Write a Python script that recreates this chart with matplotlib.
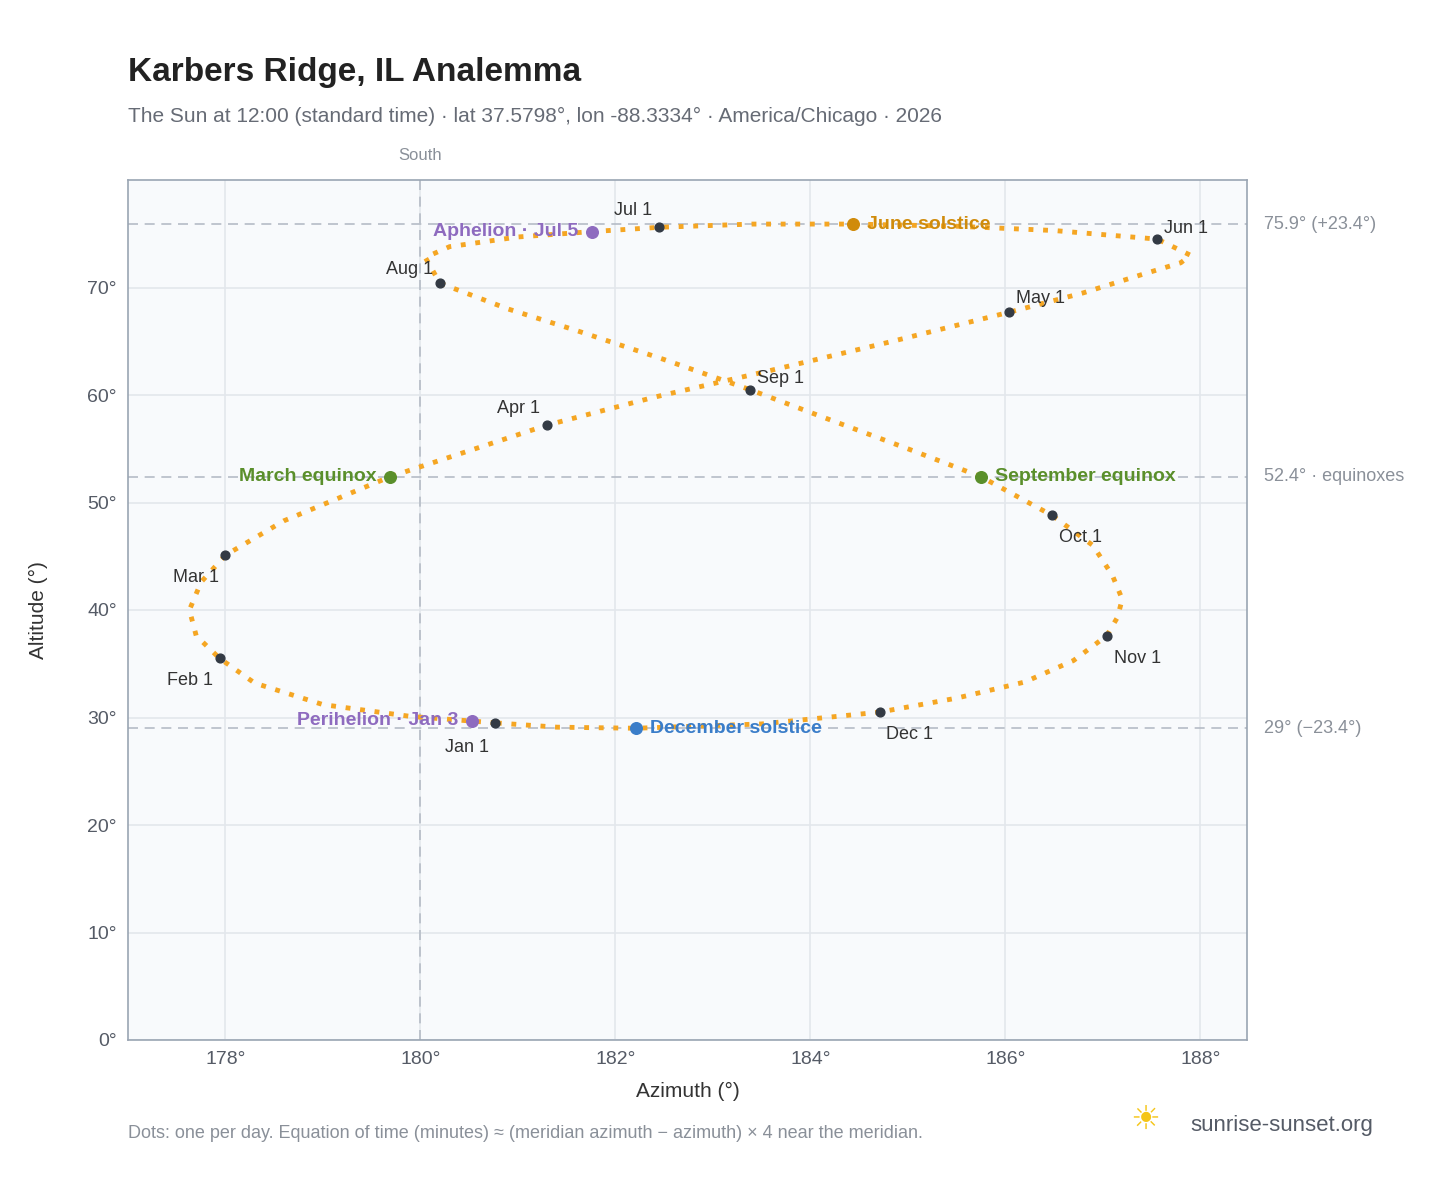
import matplotlib
matplotlib.use("Agg")
import matplotlib.pyplot as plt
plt.rcParams['font.family'] = ['Liberation Sans', 'DejaVu Sans']

# path points (chronological)
path_az = [180.77,179.9,179.0,178.3,177.94,177.7,177.63,177.75,178.0,178.6,179.69,181.30,182.4,183.6,184.8,186.04,186.8,187.4,187.8,187.9,187.56,186.5,185.5,184.44,183.4,182.45,181.76,181.0,180.3,180.05,180.2,180.9,181.6,182.5,183.38,184.2,185.0,185.75,186.48,186.9,187.1,187.2,187.15,187.04,186.7,186.2,185.5,184.71,183.5,182.21,181.4,180.77]
path_alt = [29.5,30.1,31.2,33.2,35.5,37.6,40.0,42.6,45.1,48.3,52.4,57.2,59.8,62.3,64.9,67.7,69.5,71.2,72.3,73.0,74.5,75.3,75.7,75.9,75.9,75.6,75.2,74.7,73.8,72.8,70.4,68.0,66.0,63.3,60.5,57.7,55.0,52.4,48.8,46.0,43.2,41.0,39.3,37.6,35.3,33.3,31.8,30.5,29.4,29.0,29.1,29.5]

months = ["Jan 1","Feb 1","Mar 1","Apr 1","May 1","Jun 1","Jul 1","Aug 1","Sep 1","Oct 1","Nov 1","Dec 1"]
month_az = [180.77,177.94,178.0,181.30,186.04,187.56,182.45,180.20,183.38,186.48,187.04,184.71]
month_alt = [29.5,35.5,45.1,57.2,67.7,74.5,75.6,70.4,60.5,48.8,37.6,30.5]
month_off = [(-5,-18),(-5,-16),(-5,-16),(-5,12),(5,10),(5,8),(-5,12),(-5,10),(5,8),(5,-16),(5,-16),(5,-16)]
month_ha = ["right","right","right","right","left","left","right","right","left","left","left","left"]

special = ["Perihelion · Jan 3","Aphelion · Jul 5","June solstice","December solstice","March equinox","September equinox"]
special_az = [180.53,181.76,184.44,182.21,179.69,185.75]
special_alt = [29.7,75.2,75.9,29.0,52.4,52.4]
special_col = ["#8e6bbf","#8e6bbf","#d08b0b","#3a7dc9","#5a8f2b","#5a8f2b"]
special_ha = ["right","right","left","left","right","left"]

fig = plt.figure(figsize=(14.48,11.88), dpi=100)
ax = fig.add_axes([128/1448, 1-1040/1188, 1119/1448, 860/1188])
ax.set_facecolor("#f8fafc")
ax.set_xlim(177.0,188.48); ax.set_ylim(0,80)
ax.set_xticks([178,180,182,184,186,188]); ax.set_xticklabels([f"{v}°" for v in [178,180,182,184,186,188]])
ax.set_yticks(range(0,80,10)); ax.set_yticklabels([f"{v}°" for v in range(0,80,10)])
ax.grid(color="#e3e7ec", lw=1.2); ax.set_axisbelow(True)
for s in ax.spines.values(): s.set_color("#9aa5b3"); s.set_linewidth(1.2)
ax.tick_params(colors="#555b66", labelsize=14, length=0, pad=8)
ax.set_xlabel("Azimuth (°)", fontsize=15, color="#333", labelpad=10)
ax.set_ylabel("Altitude (°)", fontsize=15, color="#333", labelpad=28)

for y in [75.9,52.4,29.0]:
    ax.axhline(y, color="#b5bcc6", ls=(0,(6,4)), lw=1.2)
ax.axvline(180, color="#b5bcc6", ls=(0,(6,4)), lw=1.2)
ax.text(180,1.02,"South",transform=ax.get_xaxis_transform(),ha="center",va="bottom",color="#8a9099",fontsize=12)
for y,t in [(75.9,"75.9° (+23.4°)"),(52.4,"52.4° · equinoxes"),(29.0,"29° (−23.4°)")]:
    ax.annotate(t,(1,y),xycoords=("axes fraction","data"),xytext=(12,0),textcoords="offset points",va="center",color="#8a9099",fontsize=13)

ax.plot(path_az,path_alt,ls=(0,(1,2)),color="#f5a623",lw=3.5)
ax.scatter(month_az,month_alt,s=40,color="#333a44",zorder=5)
for t,x,y,o,h in zip(months,month_az,month_alt,month_off,month_ha):
    ax.annotate(t,(x,y),xytext=o,textcoords="offset points",ha=h,va="center",fontsize=13,color="#333")
for t,x,y,c,h in zip(special,special_az,special_alt,special_col,special_ha):
    ax.scatter([x],[y],s=70,color=c,zorder=6)
    ax.annotate(t,(x,y),xytext=(-10 if h=="right" else 10,0),textcoords="offset points",ha=h,va="center",fontsize=14,color=c,fontweight="bold")

fig.text(128/1448,1-72/1188,"Karbers Ridge, IL Analemma",fontsize=24,fontweight="bold",color="#222",va="center")
fig.text(128/1448,1-116/1188,"The Sun at 12:00 (standard time) · lat 37.5798°, lon -88.3334° · America/Chicago · 2026",fontsize=15,color="#666b75",va="center")
fig.text(128/1448,1-1133/1188,"Dots: one per day. Equation of time (minutes) ≈ (meridian azimuth − azimuth) × 4 near the meridian.",fontsize=13,color="#8a9099",va="center")
fig.text(1190/1448,1-1125/1188,"sunrise-sunset.org",fontsize=16,color="#555b66",va="center")
fig.text(1145/1448,1-1120/1188,"☀",fontsize=24,color="#f5c518",va="center",ha="center",family="DejaVu Sans")
fig.savefig("out.png",dpi=100,facecolor="white")
